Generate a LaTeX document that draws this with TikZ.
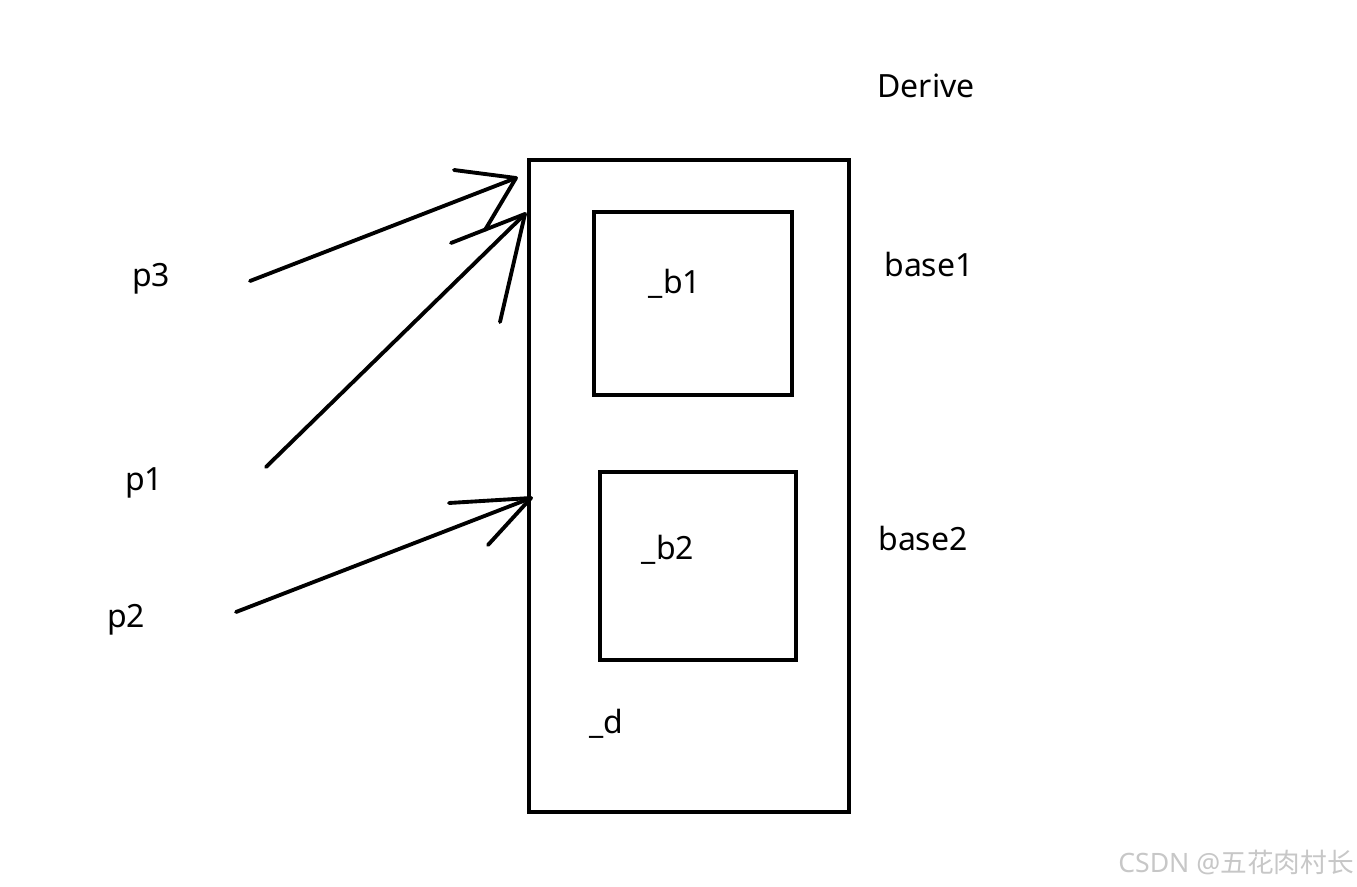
\documentclass[tikz,border=0pt]{standalone}
\usepackage{fontspec}
\setmainfont{Noto Sans}
\newfontfamily\cjk{Noto Sans CJK SC}
\usetikzlibrary{positioning}

\tikzset{
  pen/.style={line width=2.9pt, line cap=round, line join=round},
  boxline/.style={line width=2.9pt, line join=miter},
  lbl/.style={font=\fontsize{24}{28}\selectfont, inner sep=0pt},
}

\begin{document}
\begin{tikzpicture}[x=0.75pt, y=-0.75pt]
  \useasboundingbox (0,0) rectangle (1357,886);

  % boxes
  \draw[boxline] (529,160) rectangle (849,812);
  \draw[boxline] (594,212) rectangle (792,395);
  \draw[boxline] (600,472) rectangle (796,660);

  % labels
  \node[lbl] (derive) at (926,86) {Derive};
  \node[lbl] (base1) at (929,264) {base1};
  \node[lbl] (base2) at (923,538) {base2};
  \node[lbl] (b1) at (675,284) {\_b1};
  \node[lbl] (b2) at (668,550) {\_b2};
  \node[lbl] (d) at (606,724) {\_d};
  \node[lbl] (p3) at (151,279) {p3};
  \node[lbl] (p1) at (144,483) {p1};
  \node[lbl] (p2) at (126,620) {p2};

  % hand drawn arrows
  \coordinate (s3) at (250,281);
  \coordinate (t3) at (516,178);
  \coordinate (s1) at (266,467);
  \coordinate (t1) at (525,214);
  \coordinate (s2) at (236,612);
  \coordinate (t2) at (531,498);

  \draw[pen] (s3) -- (t3);
  \draw[pen] (454,170) -- (t3) -- (485,230);
  \draw[pen] (s1) -- (t1);
  \draw[pen] (451,243) -- (t1) -- (500,322);
  \draw[pen] (s2) -- (t2);
  \draw[pen] (449,503) -- (t2) -- (488,545);

  \node[font=\fontsize{20}{22}\selectfont, text=black!22, inner sep=0pt] (mark) at (1236,862) {CSDN @{\cjk 五花肉村长}};
\end{tikzpicture}
\end{document}
